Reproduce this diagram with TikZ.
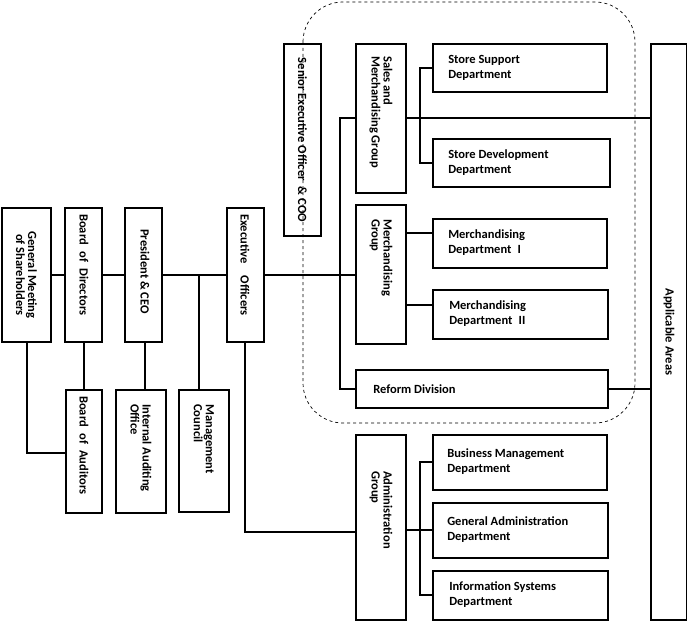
\documentclass[tikz,border=0pt]{standalone}
\usepackage{fontspec}
\setmainfont{Carlito}
\begin{document}
\begin{tikzpicture}[x=1pt,y=-1pt,line width=2.5pt,
  vt/.style={rotate=-90,font=\bfseries\fontsize{12.5}{12}\selectfont,align=center,inner sep=0pt},
  vl/.style={vt,align=left,anchor=west},
  ht/.style={font=\bfseries\fontsize{12.5}{15}\selectfont,align=left,anchor=west,inner sep=0pt}]
\useasboundingbox (0,0) rectangle (687,623);
\newcommand\bx[5]{\draw[line width=2.5pt] (#2,#3) rectangle (#4,#5); \coordinate (#1) at ({(#2+#4)/2},{(#3+#5)/2});}
\bx{gm}{2}{208}{51}{342}
\bx{bod}{65}{208}{102}{342}
\bx{ceo}{125}{208}{162}{342}
\bx{eo}{227}{208}{264}{342}
\bx{boa}{66}{390}{102}{513}
\bx{iao}{116}{390}{166}{513}
\bx{mc}{179}{390}{229}{512}
\bx{seo}{284}{44}{321}{236}
\bx{smg}{356}{44}{406}{193}
\bx{ssd}{433}{44}{607}{92}
\bx{sdd}{433}{139}{610}{187}
\bx{mg}{356}{205}{406}{344}
\bx{md1}{433}{219}{607}{268}
\bx{md2}{433}{290}{608}{339}
\bx{rd}{356}{370}{608}{408}
\bx{aa}{651}{44}{687}{620}
\bx{ag}{356}{435}{406}{620}
\bx{bmd}{433}{435}{607}{490}
\bx{gad}{433}{503}{608}{558}
\bx{isd}{433}{571}{608}{620}
\draw[dashed,line width=0.7pt,rounded corners=40pt] (303,2) rectangle (635,423);
% texts
\node[vt] at (gm) {General Meeting\\of Shareholders};
\node[vl] at (84,213) {Board\enspace of\enspace Directors};
\node[vl] at (145,228) {President \& CEO};
\node[vl] at (245,213) {Executive\enspace\enspace Officers};
\node[vl] at (84,395) {Board\enspace of\enspace Auditors};
\node[vl] at (141,403) {Internal Auditing\\Office};
\node[vl] at (204,403) {Management\\Council};
\node[vt] at (seo) {Senior Executive Officer\enspace\& COO};
\node[vl] at (381,55) {Sales and\\Merchandising Group};
\node[vl] at (381,218) {Merchandising\\Group};
\node[vt] at (aa) {Applicable Areas};
\node[vl] at (381,470) {Administration\\Group};
\node[ht] at (447,68) {Store Support\\Department};
\node[ht] at (447,163) {Store Development\\Department};
\node[ht] at (447,243) {Merchandising\\Department\enspace I};
\node[ht] at (448,314) {Merchandising\\Department\enspace II};
\node[ht] at (372,389) {Reform Division};
\node[ht] at (446,462) {Business Management\\Department};
\node[ht] at (446,530) {General Administration\\Department};
\node[ht] at (448,595) {Information Systems\\Department};
% connectors
\draw (51,275) -- (65,275) (102,275) -- (125,275) (162,275) -- (227,275) (264,275) -- (356,275);
\draw (199,275) -- (199,390);
\draw (84,342) -- (84,390) (145,342) -- (145,390);
\draw (27,342) -- (27,453) -- (66,453);
\draw (245,342) -- (245,532) -- (356,532);
\draw (356,118) -- (340,118) -- (340,389) -- (356,389);
\draw (406,118) -- (651,118);
\draw (433,68) -- (420,68) -- (420,163) -- (433,163);
\draw (406,233) -- (433,233) (406,305) -- (433,305);
\draw (608,389) -- (651,389);
\draw (433,462) -- (420,462) -- (420,595) -- (433,595) (406,530) -- (433,530);
\end{tikzpicture}
\end{document}
